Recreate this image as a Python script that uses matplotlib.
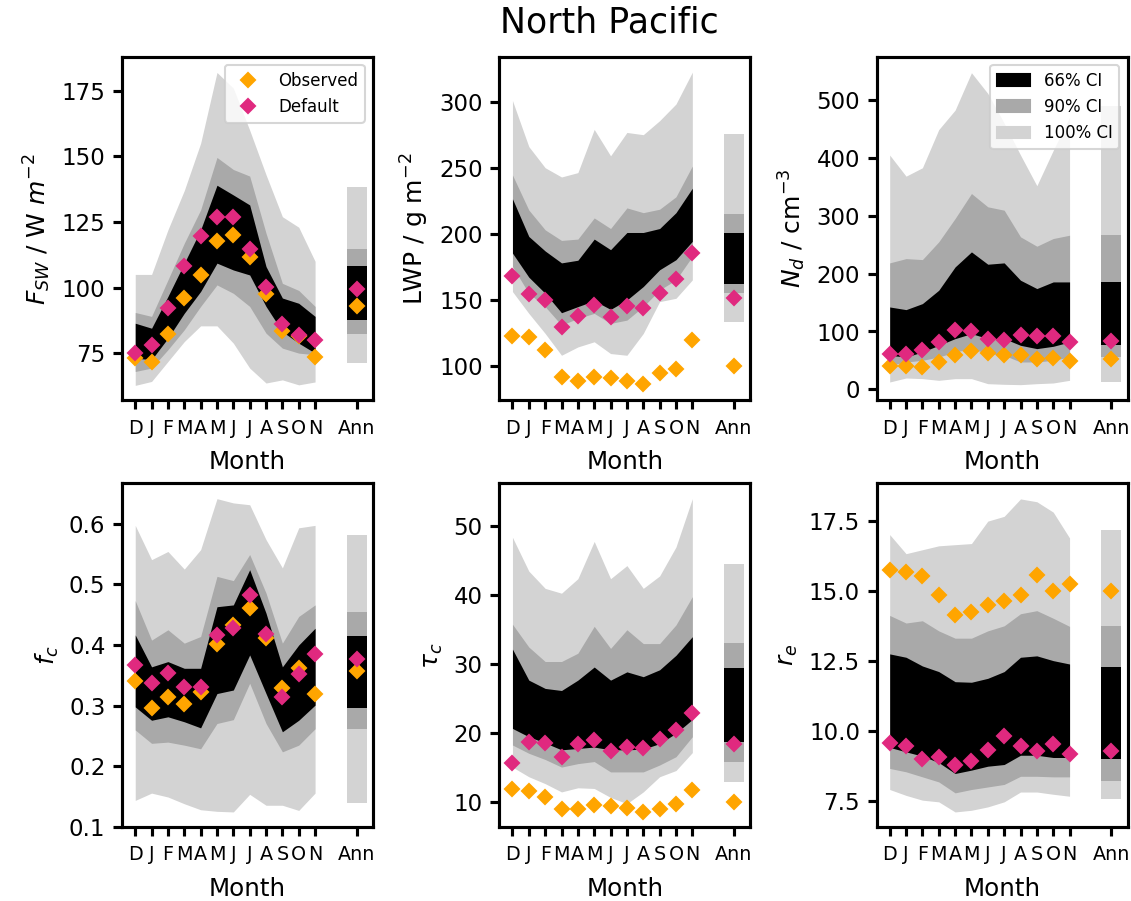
import numpy as np
import matplotlib
matplotlib.use("Agg")
import matplotlib.pyplot as plt
from matplotlib.patches import Patch

# month order D..N, last value in every list is the annual mean ("Ann")
months = ['D', 'J', 'F', 'M', 'A', 'M', 'J', 'J', 'A', 'S', 'O', 'N', 'Ann']

# F_SW
fsw_obs = [73.1, 71.8, 82.4, 96.2, 104.7, 117.9, 120.0, 111.8, 97.6, 83.6, 81.7, 73.7, 93.0]
fsw_def = [75.0, 78.2, 92.1, 108.2, 119.8, 127.0, 127.0, 114.6, 100.1, 86.0, 82.0, 80.1, 99.4]
fsw_lo = [[62.7, 64.2, 71.8, 79.4, 85.4, 85.4, 78.8, 69.3, 63.6, 64.8, 62.9, 64.0, 71.2],
          [68.0, 69.3, 76.3, 83.9, 92.8, 101.0, 97.8, 92.8, 82.6, 76.9, 75.0, 74.4, 82.4],
          [73.1, 72.5, 80.7, 90.2, 98.5, 109.3, 106.7, 104.8, 92.8, 83.2, 78.8, 75.0, 87.7]]
fsw_hi = [[105, 105, 122, 137, 155, 182, 176, 160, 143, 127, 123, 110, 138.5],
          [90.5, 89.0, 102.9, 116.9, 129.6, 149.6, 145.0, 142.5, 120.7, 101.6, 98.9, 92.8, 114.7],
          [86.4, 84.5, 96.6, 109.3, 122.0, 139.0, 135.3, 131.5, 108.0, 96.0, 94.0, 89.0, 108.4]]

# LWP
lwp_obs = [122.8, 122.0, 111.9, 91.6, 88.3, 91.6, 90.9, 88.3, 86.1, 94.7, 97.5, 119.5, 100.0]
lwp_def = [168.2, 154.2, 149.9, 129.2, 137.8, 146.1, 136.8, 145.6, 143.6, 155.5, 165.7, 185.4, 151.2]
lwp_lo = [[156.3, 139.8, 124.6, 108.1, 114.4, 118.3, 109.4, 108.1, 124.6, 148.7, 151.2, 165.1, 133.5],
          [175.3, 155.0, 144.9, 130.9, 136.0, 139.8, 132.2, 134.7, 144.9, 157.5, 165.1, 182.9, 155.0],
          [185.4, 167.2, 155.0, 140.3, 144.9, 149.4, 142.8, 149.9, 160.1, 172.8, 180.4, 194.3, 161.9]]
lwp_hi = [[300.8, 266.0, 250.0, 243.0, 246.3, 279.0, 259.0, 276.7, 275.0, 285.6, 298.2, 322.3, 275.4],
          [244.5, 218.0, 203.0, 195.0, 196.0, 212.0, 204.0, 219.6, 216.0, 218.6, 228.0, 251.3, 215.3],
          [226.5, 198.0, 187.0, 178.0, 180.0, 196.0, 188.0, 201.0, 201.0, 204.0, 216.0, 234.5, 200.6]]

# N_d
nd_obs = [39.8, 39.8, 38.6, 46.7, 60.0, 66.3, 62.9, 60.0, 58.8, 53.0, 54.8, 48.4, 53.0]
nd_def = [60.6, 61.7, 68.6, 81.9, 102.0, 100.3, 87.7, 84.8, 93.4, 91.7, 91.7, 81.9, 83.0]
nd_lo = [[12.7, 19.6, 18.5, 15.6, 18.5, 18.5, 9.8, 8.7, 8.1, 9.8, 11.0, 15.6, 12.7],
         [41.5, 47.3, 50.2, 55.9, 64.6, 70.4, 61.7, 58.8, 47.3, 47.3, 50.2, 55.9, 55.9],
         [58.8, 55.9, 64.6, 76.1, 87.7, 96.3, 87.7, 87.7, 76.1, 70.4, 74.4, 81.9, 76.1]]
nd_hi = [[405, 368.5, 383, 449, 482.7, 547.3, 511.5, 460, 405, 352, 413, 470, 490],
         [218.6, 226.0, 224.3, 255.0, 295.3, 338.5, 315.5, 309.7, 263.6, 247.4, 260.7, 266.4, 266.4],
         [142.4, 137.8, 148.2, 171.3, 211.6, 237.6, 216.3, 218.6, 188.6, 174.2, 185.7, 185.7, 185.7]]

# f_c
fc_obs = [0.341, 0.2955, 0.3148, 0.302, 0.323, 0.4018, 0.433, 0.4607, 0.412, 0.3285, 0.3627, 0.319, 0.357]
fc_def = [0.367, 0.3368, 0.3544, 0.331, 0.330, 0.4166, 0.4277, 0.4827, 0.418, 0.3148, 0.352, 0.385, 0.377]
fc_lo = [[0.144, 0.156, 0.1496, 0.1385, 0.1286, 0.126, 0.125, 0.154, 0.136, 0.136, 0.1275, 0.156, 0.1396],
         [0.26, 0.238, 0.240, 0.235, 0.229, 0.2707, 0.277, 0.337, 0.2707, 0.224, 0.235, 0.262, 0.2624],
         [0.298, 0.276, 0.2817, 0.2735, 0.2635, 0.32, 0.3258, 0.3836, 0.32, 0.257, 0.276, 0.301, 0.2955]]
fc_hi = [[0.597, 0.5405, 0.554, 0.525, 0.557, 0.641, 0.634, 0.631, 0.5735, 0.527, 0.593, 0.597, 0.581],
         [0.473, 0.408, 0.425, 0.403, 0.414, 0.513, 0.506, 0.549, 0.4855, 0.403, 0.447, 0.466, 0.454],
         [0.4166, 0.364, 0.3726, 0.3616, 0.3616, 0.463, 0.466, 0.524, 0.4524, 0.364, 0.400, 0.4276, 0.4155]]

# tau_c
tau_obs = [11.9, 11.6, 10.7, 9.0, 9.0, 9.6, 9.4, 9.1, 8.6, 9.0, 9.8, 11.8, 10.0]
tau_def = [15.7, 18.7, 18.6, 16.5, 18.4, 19.0, 17.4, 18.0, 17.8, 19.1, 20.5, 22.9, 18.5]
tau_lo = [[15.1, 13.7, 12.7, 11.5, 12.1, 12.0, 10.7, 9.8, 11.5, 13.7, 14.6, 17.2, 13.0],
          [18.3, 17.1, 16.2, 15.1, 15.6, 15.9, 14.4, 14.4, 14.4, 15.4, 16.6, 19.5, 15.8],
          [20.7, 19.5, 18.6, 17.6, 17.8, 18.0, 17.6, 17.6, 17.7, 18.5, 20.0, 22.0, 18.7]]
tau_hi = [[48.4, 43.5, 41.0, 40.3, 42.4, 47.8, 42.4, 44.3, 41.0, 42.8, 47.0, 54.0, 44.5],
          [35.8, 32.5, 30.4, 30.4, 31.6, 35.5, 32.3, 35.0, 33.0, 33.0, 35.7, 39.8, 33.1],
          [32.2, 27.7, 26.5, 26.2, 27.7, 29.6, 27.7, 28.9, 28.2, 29.2, 31.3, 34.0, 29.5]]

# r_e
re_obs = [15.73, 15.67, 15.54, 14.86, 14.12, 14.26, 14.5, 14.64, 14.86, 15.57, 15.0, 15.24, 15.0]
re_def = [9.56, 9.48, 9.0, 9.08, 8.81, 8.93, 9.32, 9.83, 9.46, 9.29, 9.54, 9.2, 9.3]
re_lo = [[7.92, 7.71, 7.54, 7.48, 7.12, 7.18, 7.3, 7.48, 7.83, 7.83, 7.75, 7.68, 7.57],
         [8.67, 8.55, 8.37, 8.19, 7.8, 7.92, 8.01, 8.1, 8.39, 8.39, 8.37, 8.37, 8.21],
         [9.42, 9.26, 9.11, 8.88, 8.49, 8.61, 8.75, 8.81, 9.14, 9.14, 9.06, 9.06, 8.99]]
re_hi = [[17.0, 16.32, 16.46, 16.6, 16.64, 16.68, 17.48, 17.65, 18.27, 18.17, 17.8, 16.88, 17.18],
         [14.12, 13.85, 13.93, 13.57, 13.31, 13.31, 13.57, 13.75, 14.18, 14.29, 14.02, 13.73, 13.76],
         [12.75, 12.63, 12.32, 12.12, 11.76, 11.74, 11.88, 12.12, 12.63, 12.68, 12.51, 12.39, 12.27]]

shades = ['lightgrey', 'darkgrey', 'black']   # 100%, 90%, 66%
c_obs = '#ffa500'
c_def = '#e0297f'

xm = np.arange(12)
x_ann = 13.55
xall = np.append(xm, x_ann)


def panel(ax, obs, dflt, lo, hi, ylabel, ylim, yticks):
    for k in range(3):
        ax.fill_between(xm, lo[k][:12], hi[k][:12], color=shades[k], lw=0)
        ax.bar(x_ann, hi[k][12] - lo[k][12], bottom=lo[k][12], width=1.2,
               color=shades[k], lw=0)
    l1, = ax.plot(xall, obs, 'D', color=c_obs, ms=5, ls='none', label='Observed')
    l2, = ax.plot(xall, dflt, 'D', color=c_def, ms=5, ls='none', label='Default')
    ax.set_xlim(-0.8, 14.55)
    ax.set_ylim(*ylim)
    ax.set_yticks(yticks)
    ax.set_xticks(xall)
    ax.set_xticklabels(months, fontsize=9.2)
    ax.set_xlabel('Month', fontsize=11.8, labelpad=6)
    ax.set_ylabel(ylabel, fontsize=12)
    ax.tick_params(width=1.5, length=4.5, labelsize=11)
    ax.tick_params(axis='x', labelsize=9.2, pad=4.2)
    for s in ax.spines.values():
        s.set_linewidth(1.5)
    return l1, l2


fig, axs = plt.subplots(2, 3, figsize=(7.54, 6.007), dpi=150)
plt.subplots_adjust(left=0.108, right=0.997, top=0.937, bottom=0.082,
                    wspace=0.503, hspace=0.242)

h = panel(axs[0, 0], fsw_obs, fsw_def, fsw_lo, fsw_hi, r'$F_{SW}$ / W $m^{-2}$',
          (57, 188), [75, 100, 125, 150, 175])
axs[0, 0].legend(handles=list(h), loc='upper right', fontsize=8)

panel(axs[0, 1], lwp_obs, lwp_def, lwp_lo, lwp_hi, r'LWP / g m$^{-2}$',
      (74, 334), [100, 150, 200, 250, 300])

panel(axs[0, 2], nd_obs, nd_def, nd_lo, nd_hi, r'$N_d$ / cm$^{-3}$',
      (-19, 575), [0, 100, 200, 300, 400, 500])
ci = [Patch(color='black', label='66% CI'),
      Patch(color='darkgrey', label='90% CI'),
      Patch(color='lightgrey', label='100% CI')]
axs[0, 2].legend(handles=ci, loc='upper right', fontsize=8)

panel(axs[1, 0], fc_obs, fc_def, fc_lo, fc_hi, r'$f_c$',
      (0.1, 0.666), [0.1, 0.2, 0.3, 0.4, 0.5, 0.6])

panel(axs[1, 1], tau_obs, tau_def, tau_lo, tau_hi, r'$\tau_c$',
      (6.4, 56.2), [10, 20, 30, 40, 50])

panel(axs[1, 2], re_obs, re_def, re_lo, re_hi, r'$r_e$',
      (6.58, 18.82), [7.5, 10.0, 12.5, 15.0, 17.5])

fig.text(0.539, 0.975, 'North Pacific', fontsize=16.7, ha='center', va='center')

plt.savefig('out.png', dpi=150)
